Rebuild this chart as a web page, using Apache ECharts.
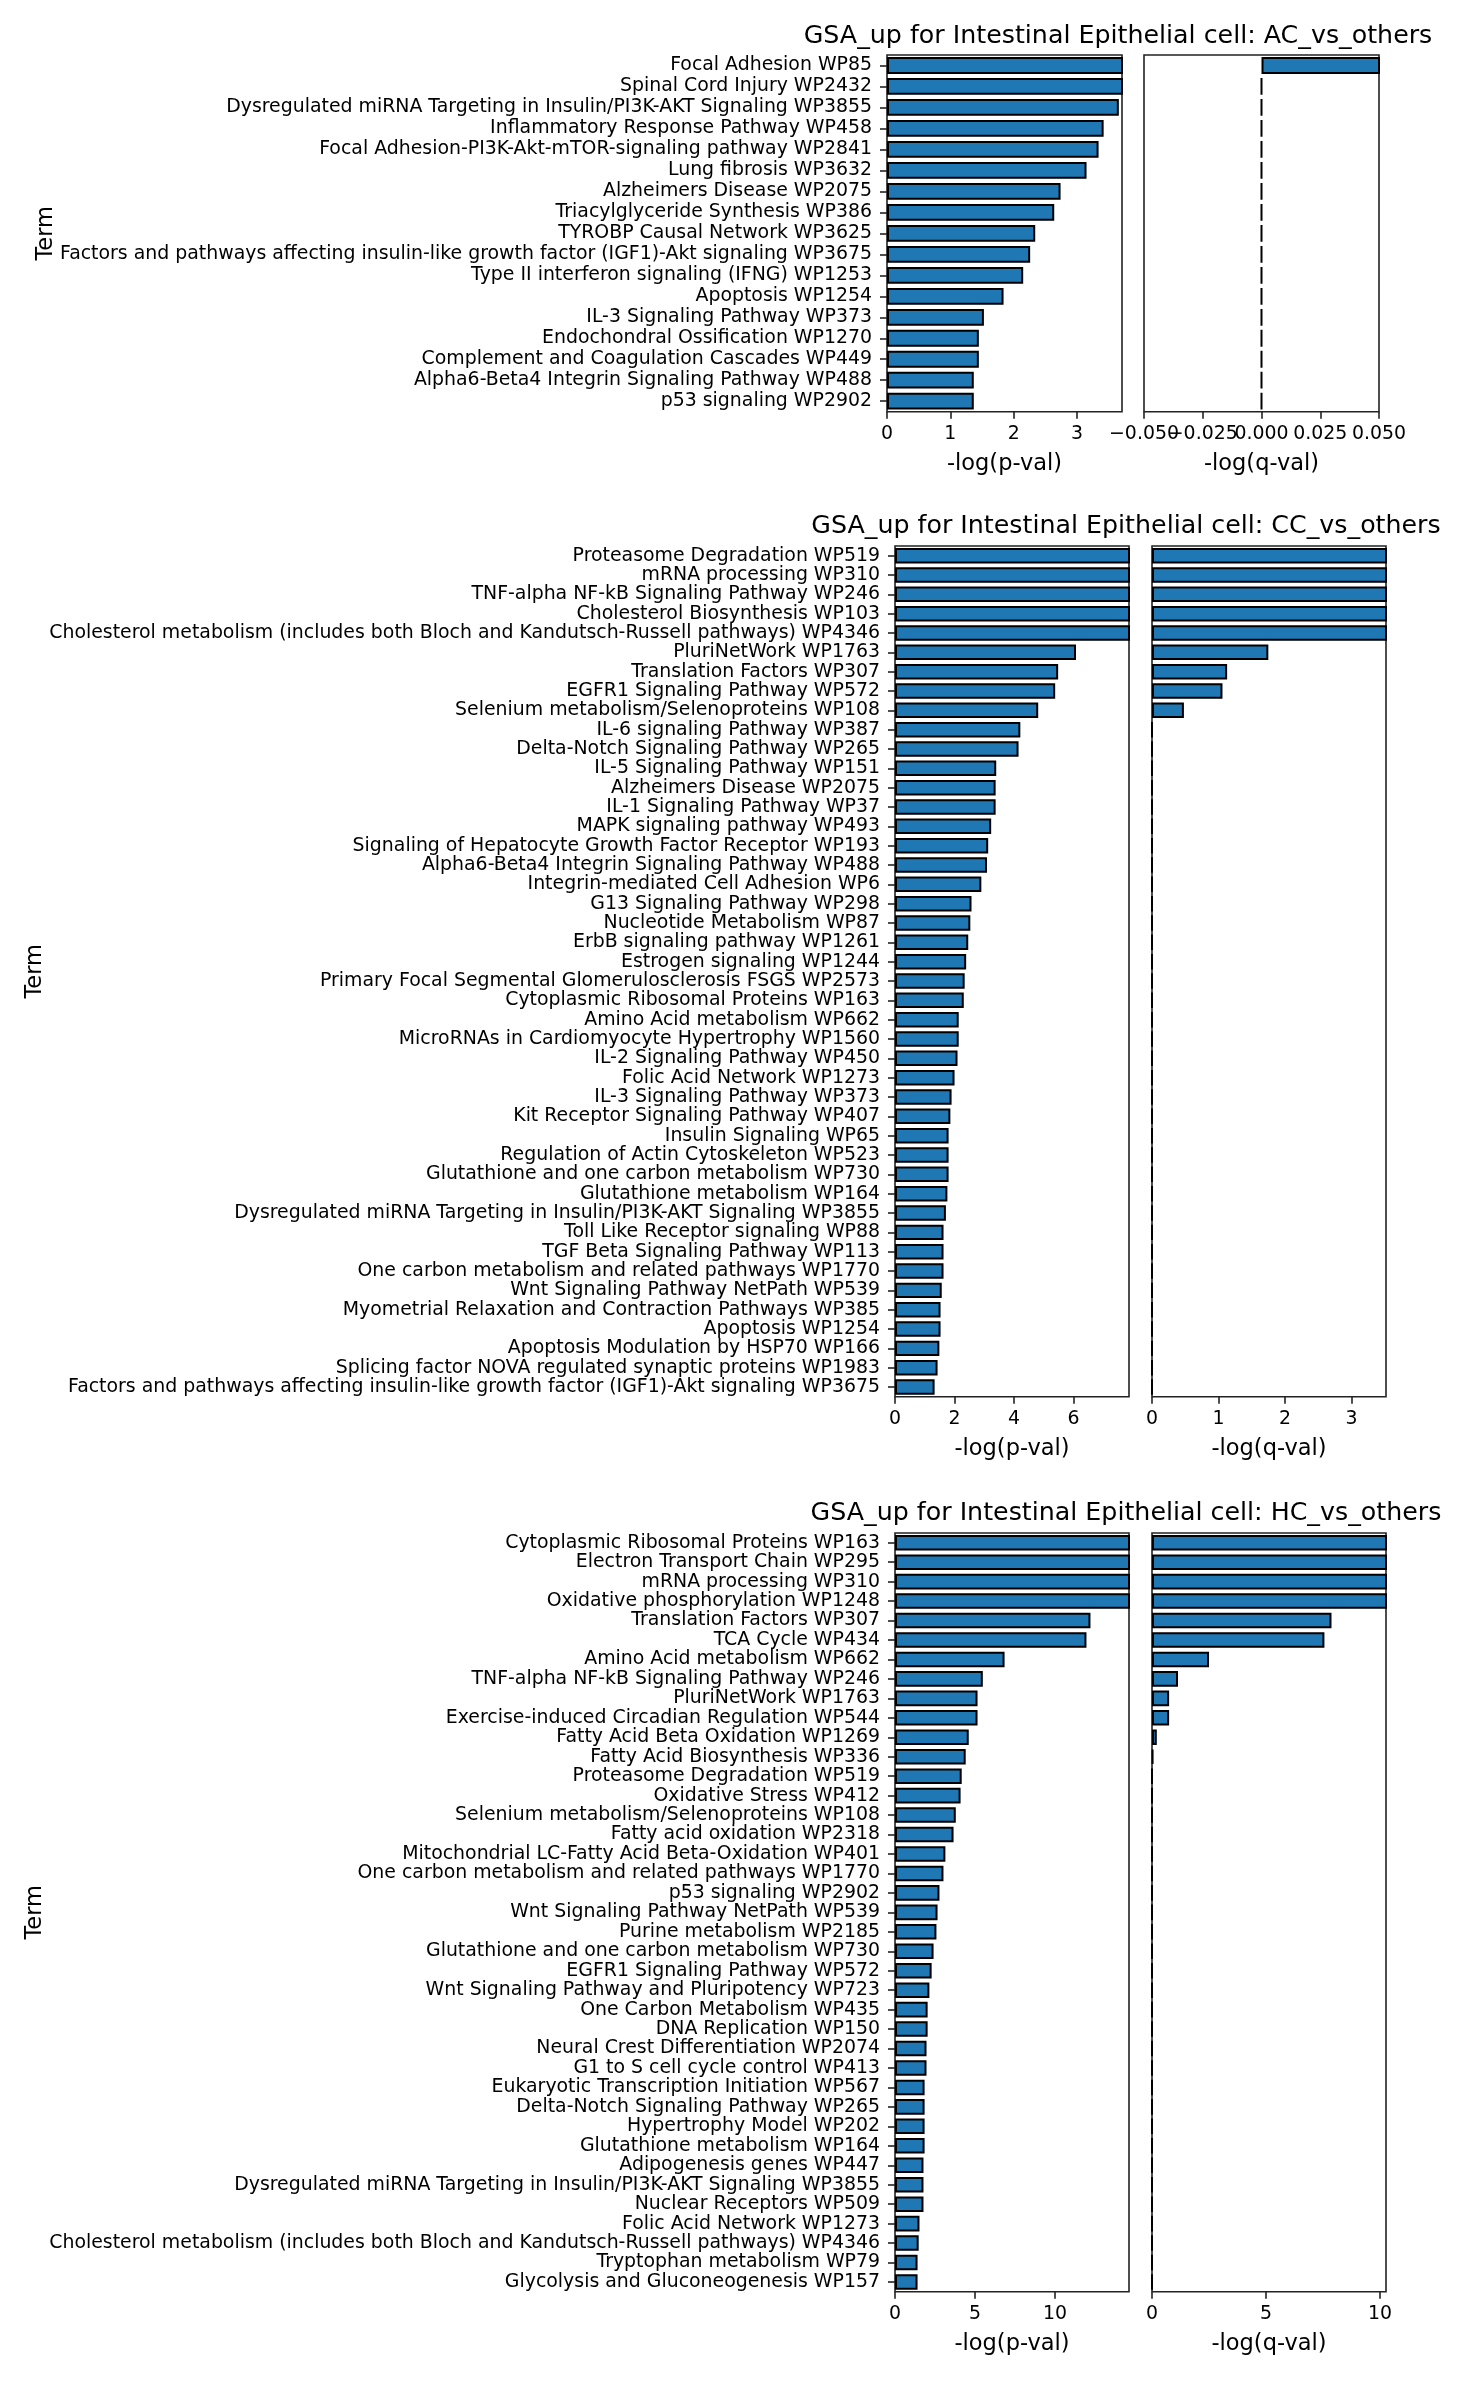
<!DOCTYPE html>
<html>
<head>
<meta charset="utf-8">
<script src="https://cdn.jsdelivr.net/npm/echarts@6/dist/echarts.min.js"></script>
<style>
  html, body { margin: 0; padding: 0; background: #fff; }
  #chart { width: 1462px; height: 2382px; }
</style>
</head>
<body>
<div id="chart"></div>
<script>
const titles = [
  "GSA_up for Intestinal Epithelial cell: AC_vs_others",
  "GSA_up for Intestinal Epithelial cell: CC_vs_others",
  "GSA_up for Intestinal Epithelial cell: HC_vs_others"
];

const acTerms = [
  "Focal Adhesion WP85",
  "Spinal Cord Injury WP2432",
  "Dysregulated miRNA Targeting in Insulin/PI3K-AKT Signaling WP3855",
  "Inflammatory Response Pathway WP458",
  "Focal Adhesion-PI3K-Akt-mTOR-signaling pathway WP2841",
  "Lung fibrosis WP3632",
  "Alzheimers Disease WP2075",
  "Triacylglyceride Synthesis WP386",
  "TYROBP Causal Network WP3625",
  "Factors and pathways affecting insulin-like growth factor (IGF1)-Akt signaling WP3675",
  "Type II interferon signaling (IFNG) WP1253",
  "Apoptosis WP1254",
  "IL-3 Signaling Pathway WP373",
  "Endochondral Ossification WP1270",
  "Complement and Coagulation Cascades WP449",
  "Alpha6-Beta4 Integrin Signaling Pathway WP488",
  "p53 signaling WP2902"
];
const acP = [3.85, 3.78, 3.66, 3.42, 3.34, 3.15, 2.74, 2.64, 2.34, 2.26, 2.15, 1.84, 1.53, 1.45, 1.45, 1.37, 1.37];
const acQ = [0.3, 0, 0, 0, 0, 0, 0, 0, 0, 0, 0, 0, 0, 0, 0, 0, 0];

const ccTerms = [
  "Proteasome Degradation WP519",
  "mRNA processing WP310",
  "TNF-alpha NF-kB Signaling Pathway WP246",
  "Cholesterol Biosynthesis WP103",
  "Cholesterol metabolism (includes both Bloch and Kandutsch-Russell pathways) WP4346",
  "PluriNetWork WP1763",
  "Translation Factors WP307",
  "EGFR1 Signaling Pathway WP572",
  "Selenium metabolism/Selenoproteins WP108",
  "IL-6 signaling Pathway WP387",
  "Delta-Notch Signaling Pathway WP265",
  "IL-5 Signaling Pathway WP151",
  "Alzheimers Disease WP2075",
  "IL-1 Signaling Pathway WP37",
  "MAPK signaling pathway WP493",
  "Signaling of Hepatocyte Growth Factor Receptor WP193",
  "Alpha6-Beta4 Integrin Signaling Pathway WP488",
  "Integrin-mediated Cell Adhesion WP6",
  "G13 Signaling Pathway WP298",
  "Nucleotide Metabolism WP87",
  "ErbB signaling pathway WP1261",
  "Estrogen signaling WP1244",
  "Primary Focal Segmental Glomerulosclerosis FSGS WP2573",
  "Cytoplasmic Ribosomal Proteins WP163",
  "Amino Acid metabolism WP662",
  "MicroRNAs in Cardiomyocyte Hypertrophy WP1560",
  "IL-2 Signaling Pathway WP450",
  "Folic Acid Network WP1273",
  "IL-3 Signaling Pathway WP373",
  "Kit Receptor Signaling Pathway WP407",
  "Insulin Signaling WP65",
  "Regulation of Actin Cytoskeleton WP523",
  "Glutathione and one carbon metabolism WP730",
  "Glutathione metabolism WP164",
  "Dysregulated miRNA Targeting in Insulin/PI3K-AKT Signaling WP3855",
  "Toll Like Receptor signaling WP88",
  "TGF Beta Signaling Pathway WP113",
  "One carbon metabolism and related pathways WP1770",
  "Wnt Signaling Pathway NetPath WP539",
  "Myometrial Relaxation and Contraction Pathways WP385",
  "Apoptosis WP1254",
  "Apoptosis Modulation by HSP70 WP166",
  "Splicing factor NOVA regulated synaptic proteins WP1983",
  "Factors and pathways affecting insulin-like growth factor (IGF1)-Akt signaling WP3675"
];
const ccP = [12.0, 10.5, 9.6, 9.0, 8.4, 6.08, 5.48, 5.38, 4.81, 4.21, 4.15, 3.40, 3.38, 3.38, 3.23, 3.13, 3.09, 2.90,
  2.57, 2.53, 2.46, 2.39, 2.34, 2.31, 2.14, 2.14, 2.10, 2.00, 1.90, 1.86, 1.80, 1.80, 1.80, 1.76, 1.71, 1.63, 1.63,
  1.63, 1.57, 1.53, 1.53, 1.49, 1.43, 1.33];
const ccQ = [6.0, 4.8, 4.4, 4.1, 3.8, 1.75, 1.13, 1.06, 0.48, 0, 0, 0, 0, 0, 0, 0, 0, 0, 0, 0, 0, 0,
  0, 0, 0, 0, 0, 0, 0, 0, 0, 0, 0, 0, 0, 0, 0, 0, 0, 0, 0, 0, 0, 0];

const hcTerms = [
  "Cytoplasmic Ribosomal Proteins WP163",
  "Electron Transport Chain WP295",
  "mRNA processing WP310",
  "Oxidative phosphorylation WP1248",
  "Translation Factors WP307",
  "TCA Cycle WP434",
  "Amino Acid metabolism WP662",
  "TNF-alpha NF-kB Signaling Pathway WP246",
  "PluriNetWork WP1763",
  "Exercise-induced Circadian Regulation WP544",
  "Fatty Acid Beta Oxidation WP1269",
  "Fatty Acid Biosynthesis WP336",
  "Proteasome Degradation WP519",
  "Oxidative Stress WP412",
  "Selenium metabolism/Selenoproteins WP108",
  "Fatty acid oxidation WP2318",
  "Mitochondrial LC-Fatty Acid Beta-Oxidation WP401",
  "One carbon metabolism and related pathways WP1770",
  "p53 signaling WP2902",
  "Wnt Signaling Pathway NetPath WP539",
  "Purine metabolism WP2185",
  "Glutathione and one carbon metabolism WP730",
  "EGFR1 Signaling Pathway WP572",
  "Wnt Signaling Pathway and Pluripotency WP723",
  "One Carbon Metabolism WP435",
  "DNA Replication WP150",
  "Neural Crest Differentiation WP2074",
  "G1 to S cell cycle control WP413",
  "Eukaryotic Transcription Initiation WP567",
  "Delta-Notch Signaling Pathway WP265",
  "Hypertrophy Model WP202",
  "Glutathione metabolism WP164",
  "Adipogenesis genes WP447",
  "Dysregulated miRNA Targeting in Insulin/PI3K-AKT Signaling WP3855",
  "Nuclear Receptors WP509",
  "Folic Acid Network WP1273",
  "Cholesterol metabolism (includes both Bloch and Kandutsch-Russell pathways) WP4346",
  "Tryptophan metabolism WP79",
  "Glycolysis and Gluconeogenesis WP157"
];
const hcP = [30.0, 22.0, 18.0, 16.0, 12.22, 11.97, 6.85, 5.49, 5.16, 5.16, 4.61, 4.42, 4.17, 4.10, 3.80, 3.66, 3.15,
  3.03, 2.78, 2.66, 2.59, 2.41, 2.29, 2.15, 2.04, 2.04, 1.97, 1.97, 1.85, 1.85, 1.85, 1.85, 1.78, 1.78, 1.78,
  1.53, 1.48, 1.41, 1.41];
const hcQ = [27.0, 19.0, 15.0, 13.0, 7.87, 7.56, 2.50, 1.14, 0.75, 0.75, 0.21, 0.05, 0, 0, 0, 0, 0,
  0, 0, 0, 0, 0, 0, 0, 0, 0, 0, 0, 0, 0, 0, 0, 0, 0, 0, 0, 0, 0, 0];

// axis limits and tick values
const pMin = [0, 0, 0];
const pMax = [3.71, 7.86, 14.63];
const qMin = [-0.05, 0, 0];
const qMax = [0.05, 3.52, 10.26];
const pTicks = [[0, 1, 2, 3], [0, 2, 4, 6], [0, 5, 10]];
const qTicks = [[-0.05, -0.025, 0, 0.025, 0.05], [0, 1, 2, 3], [0, 5, 10]];

const termsList = [acTerms, ccTerms, hcTerms];
const pList = [acP, ccP, hcP];
const qList = [acQ, ccQ, hcQ];

// layout in pixels: [top, height, pLeft, qLeft, width, termX, titleX, titleY]
const layout = [
  [55, 356.7, 887, 1144, 235, 46, 1118, 36],
  [546, 850.7, 895, 1152, 234, 35, 1126, 526],
  [1533, 758.7, 895, 1152, 234, 35, 1126, 1513]
];

const FONT = "DejaVu Sans";
const INK = "#222";
const TICK_FS = 18.9;

const grids = [], xAxes = [], yAxes = [], series = [], texts = [];

function tickLabel(v, dec) {
  return dec ? (v < 0 ? "\u2212" : "") + Math.abs(v).toFixed(3) : String(v);
}

layout.forEach(([top, height, pLeft, qLeft, width, termX, titleX, titleY], i) => {
  const decimals = qTicks[i].some(v => !Number.isInteger(v));
  [[pLeft, pMin[i], pMax[i], pTicks[i], "-log(p-val)", pList[i], true],
   [qLeft, qMin[i], qMax[i], qTicks[i], "-log(q-val)", qList[i], false]]
    .forEach(([left, min, max, ticks, name, values, showTerms], j) => {
      const k = grids.length;
      const dec = j === 1 && decimals;
      // crowded decimal labels overlap like the original; split them over two axes so none get dropped
      const mainLabels = dec ? ticks.filter((_, n) => n % 2 === 0) : ticks;
      const extraLabels = dec ? ticks.filter((_, n) => n % 2 === 1) : [];
      grids.push({
        left, top, width, height,
        show: true, borderColor: INK, borderWidth: 1.6, backgroundColor: "transparent",
        containLabel: false, outerBoundsMode: "none"
      });
      const xIndex = xAxes.length;
      xAxes.push({
        type: "value", gridIndex: k, min, max, position: "bottom",
        axisLine: { show: false },
        splitLine: { show: false },
        axisTick: { show: true, length: 7, lineStyle: { color: INK, width: 1.6 }, customValues: ticks },
        axisLabel: {
          customValues: mainLabels, margin: 13, color: "#000", fontFamily: FONT, fontSize: TICK_FS,
          showMinLabel: true, showMaxLabel: true, hideOverlap: false,
          formatter: v => tickLabel(v, dec)
        },
        name, nameLocation: "middle", nameGap: 41,
        nameTextStyle: { color: "#000", fontFamily: FONT, fontSize: 22.5 }
      });
      if (extraLabels.length) {
        xAxes.push({
          type: "value", gridIndex: k, min, max, position: "bottom", offset: 0,
          axisLine: { show: false }, splitLine: { show: false }, axisTick: { show: false },
          axisLabel: {
            customValues: extraLabels, margin: 13, color: "#000", fontFamily: FONT, fontSize: TICK_FS,
            showMinLabel: true, showMaxLabel: true, hideOverlap: false,
            formatter: v => tickLabel(v, dec)
          }
        });
      }
      yAxes.push({
        type: "category", gridIndex: k, data: termsList[i], inverse: true,
        axisLine: { show: false },
        axisTick: { show: showTerms, length: 7, alignWithLabel: true, interval: 0, lineStyle: { color: INK, width: 1.6 } },
        axisLabel: { show: showTerms, interval: 0, margin: 15, color: "#000", fontFamily: FONT, fontSize: TICK_FS },
        splitLine: { show: false }
      });
      series.push({
        type: "bar", xAxisIndex: xIndex, yAxisIndex: k, data: values,
        barWidth: "80%", clip: true, silent: true,
        itemStyle: { color: "#1f77b4", borderColor: "#000", borderWidth: 2 }
      });
    });
  texts.push({
    type: "text", x: titleX, y: titleY,
    style: { text: titles[i], fill: "#000", font: `25.3px "${FONT}"`, textAlign: "center", textVerticalAlign: "middle" }
  });
  texts.push({
    type: "text", x: termX, y: top + height / 2, rotation: Math.PI / 2,
    style: { text: "Term", fill: "#000", font: `22.5px "${FONT}"`, textAlign: "center", textVerticalAlign: "middle" }
  });
});

const chart = echarts.init(document.getElementById("chart"), null, { renderer: "canvas" });
chart.setOption({
  animation: false,
  backgroundColor: "#fff",
  textStyle: { fontFamily: FONT },
  grid: grids,
  xAxis: xAxes,
  yAxis: yAxes,
  series,
  graphic: texts
});
</script>
</body>
</html>
